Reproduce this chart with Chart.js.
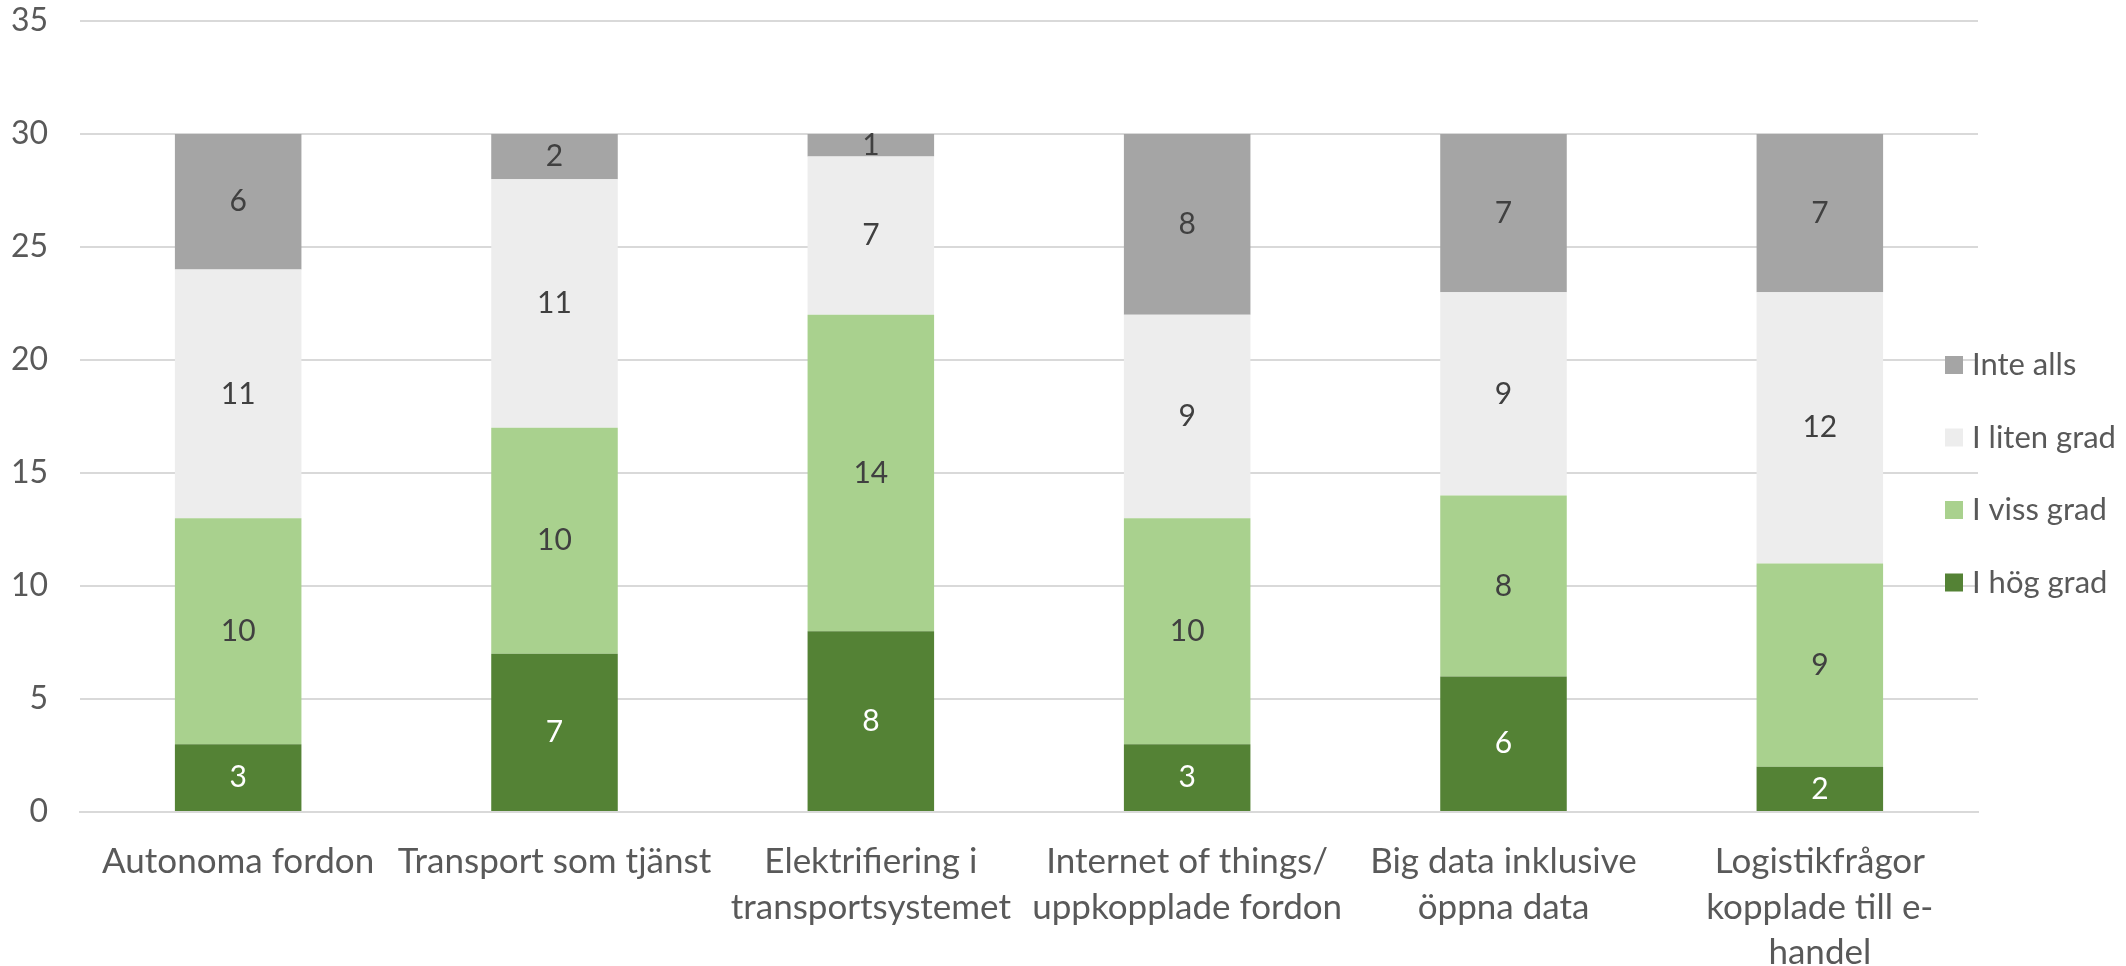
<!DOCTYPE html>
<html>
<head>
<meta charset="utf-8">
<script src="https://cdn.jsdelivr.net/npm/chart.js@4"></script>
<style>
  html, body { margin: 0; padding: 0; background: #fff; overflow: hidden; }
  #wrap { width: 2126px; height: 966px; }
</style>
</head>
<body>
<div id="wrap"><canvas id="myChart"></canvas></div>
<script>
// categories (multi-line labels as in the original)
var categories = [
    ['Autonoma fordon'],
    ['Transport som tjänst'],
    ['Elektrifiering i', 'transportsystemet'],
    ['Internet of things/', 'uppkopplade fordon'],
    ['Big data inklusive', 'öppna data'],
    ['Logistikfrågor', 'kopplade till e-', 'handel']
];

// series, bottom to top
var iHogGrad   = [3, 7, 8, 3, 6, 2];
var iVissGrad  = [10, 10, 14, 10, 8, 9];
var iLitenGrad = [11, 11, 7, 9, 9, 12];
var inteAlls   = [6, 2, 1, 8, 7, 7];

var yTicks = [0, 5, 10, 15, 20, 25, 30, 35];

var FONT = 'Lato, "Open Sans", sans-serif';
var TEXT = '#595959';

// value labels inside the segments
var valueLabels = {
    id: 'valueLabels',
    afterDatasetsDraw: function (chart) {
        var ctx = chart.ctx;
        ctx.save();
        ctx.font = '30px ' + FONT;
        ctx.textAlign = 'center';
        ctx.textBaseline = 'middle';
        chart.data.datasets.forEach(function (ds, i) {
            var meta = chart.getDatasetMeta(i);
            meta.data.forEach(function (bar, j) {
                var v = ds.data[j];
                if (!v) return;
                ctx.fillStyle = ds.labelColor;
                ctx.fillText(String(v), bar.x, (bar.y + bar.base) / 2);
            });
        });
        ctx.restore();
    }
};

// legend drawn at the right, overlapping the end of the gridlines like the original
var sideLegend = {
    id: 'sideLegend',
    afterDraw: function (chart) {
        var ctx = chart.ctx;
        var ds = chart.data.datasets.slice().reverse();
        var x = chart.chartArea.right - 33;
        var y = 365;
        ctx.save();
        ctx.font = '31px ' + FONT;
        ctx.textBaseline = 'middle';
        ctx.textAlign = 'left';
        ds.forEach(function (d, k) {
            var cy = y + k * 72.5;
            ctx.fillStyle = d.backgroundColor;
            ctx.fillRect(x, cy - 9, 18, 18);
            ctx.fillStyle = TEXT;
            ctx.fillText(d.label, x + 27, cy);
        });
        ctx.restore();
    }
};

var ctx = document.getElementById('myChart').getContext('2d');
var chart = new Chart(ctx, {
    type: 'bar',
    data: {
        labels: categories,
        datasets: [
            { label: 'I hög grad', data: iHogGrad, backgroundColor: '#548235', labelColor: '#ffffff' },
            { label: 'I viss grad', data: iVissGrad, backgroundColor: '#A9D18E', labelColor: '#404040' },
            { label: 'I liten grad', data: iLitenGrad, backgroundColor: '#EDEDED', labelColor: '#404040' },
            { label: 'Inte alls', data: inteAlls, backgroundColor: '#A5A5A5', labelColor: '#404040' }
        ]
    },
    options: {
        responsive: true,
        maintainAspectRatio: false,
        animation: false,
        devicePixelRatio: 1,
        barPercentage: 0.4,
        categoryPercentage: 1,
        layout: { padding: { top: 21, right: 148, left: 0, bottom: 0 } },
        plugins: {
            legend: { display: false },
            tooltip: { enabled: false }
        },
        scales: {
            x: {
                stacked: true,
                grid: { display: false, drawTicks: false },
                border: { display: true, color: '#D9D9D9', width: 2 },
                ticks: {
                    color: TEXT,
                    font: { family: FONT, size: 35, lineHeight: 1.3 },
                    padding: 27,
                    autoSkip: false,
                    maxRotation: 0
                },
                afterFit: function (s) {
                    s.height = 154;
                    s.paddingLeft = 0; s.paddingRight = 0;
                }
            },
            y: {
                stacked: true,
                min: 0,
                max: 35,
                afterBuildTicks: function (s) {
                    s.ticks = yTicks.map(function (v) { return { value: v }; });
                },
                grid: { color: '#D9D9D9', lineWidth: 2, drawTicks: false },
                border: { display: false },
                ticks: {
                    color: TEXT,
                    font: { family: FONT, size: 32 },
                    padding: 32
                },
                afterFit: function (s) {
                    s.width = 80;
                    s.paddingTop = 0; s.paddingBottom = 0;
                }
            }
        }
    },
    plugins: [valueLabels, sideLegend]
});
</script>
</body>
</html>
